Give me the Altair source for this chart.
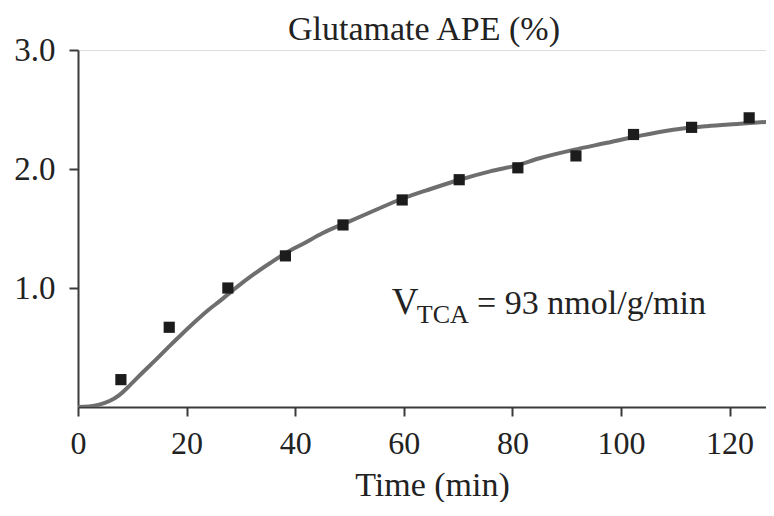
import altair as alt
import pandas as pd

# Measured data points (time in min, glutamate APE in %)
obs_t = [7.9, 16.8, 27.6, 38.2, 48.8, 59.7, 70.2, 81.0, 91.7, 102.3, 113.0, 123.6]
obs_v = [0.23, 0.67, 1.00, 1.27, 1.53, 1.74, 1.91, 2.01, 2.11, 2.29, 2.35, 2.43]

# Model fit curve
fit_t = [0, 2, 3.9, 5.8, 7.6, 9.5, 11.9, 14.4, 16.8, 19.3, 22, 24, 26.1, 29.3, 32.2,
         35.4, 38.5, 41.4, 45, 50, 55, 59.7, 64.8, 70.3, 75.9, 80.8, 85, 91.2, 97.4,
         103.5, 109.6, 115.8, 121.9, 128]
fit_v = [0, 0.005, 0.02, 0.05, 0.10, 0.18, 0.29, 0.40, 0.51, 0.62, 0.735, 0.815, 0.89,
         1.01, 1.11, 1.21, 1.30, 1.37, 1.46, 1.56, 1.66, 1.75, 1.83, 1.91, 1.98, 2.03,
         2.09, 2.16, 2.22, 2.28, 2.33, 2.36, 2.38, 2.40]

x_ticks = [0, 20, 40, 60, 80, 100, 120]
y_ticks = [1.0, 2.0, 3.0]

title_text = "Glutamate APE (%)"
x_title = "Time (min)"
ann_main = "V"
ann_sub = "TCA"
ann_rest = "= 93 nmol/g/min"

FONT = "Liberation Serif"
INK = "#222222"
AXIS = "#3a3a3a"

obs = pd.DataFrame({"t": obs_t, "v": obs_v})
fit = pd.DataFrame({"t": fit_t, "v": fit_v})

x_enc = alt.X("t:Q",
              scale=alt.Scale(domain=[0, 126.7], nice=False, zero=False),
              axis=alt.Axis(values=x_ticks, title=x_title, grid=False,
                            domainColor=AXIS, domainWidth=2,
                            tickColor=AXIS, tickWidth=2, tickSize=9,
                            labelFont=FONT, labelFontSize=32, labelColor=INK,
                            labelPadding=12, labelFlush=False,
                            titleFont=FONT, titleFontSize=34, titleFontWeight="normal",
                            titleColor=INK, titleBaseline="alphabetic",
                            titleY=88, titleX=354))
y_enc = alt.Y("v:Q",
              scale=alt.Scale(domain=[0, 3], nice=False),
              axis=alt.Axis(values=y_ticks, format=".1f", title=None, grid=False,
                            domainColor=AXIS, domainWidth=2,
                            tickColor=AXIS, tickWidth=2, tickSize=9,
                            labelFont=FONT, labelFontSize=33, labelColor=INK,
                            labelPadding=14, labelFlush=False))

line = alt.Chart(fit).mark_line(color="#6e6e6e", strokeWidth=4, clip=True,
                                interpolate="monotone").encode(x=x_enc, y=y_enc)
points = alt.Chart(obs).mark_square(color="#1c1c1c", size=125, opacity=1).encode(x=x_enc, y=y_enc)

ann1 = alt.Chart(pd.DataFrame({"t": [57.8], "v": [0.78], "s": [ann_main]})).mark_text(
    font=FONT, fontSize=37, color=INK, align="left", baseline="alphabetic").encode(
    x=x_enc, y=y_enc, text="s:N")
ann2 = alt.Chart(pd.DataFrame({"t": [62.4], "v": [0.705], "s": [ann_sub]})).mark_text(
    font=FONT, fontSize=26, color=INK, align="left", baseline="alphabetic").encode(
    x=x_enc, y=y_enc, text="s:N")
ann3 = alt.Chart(pd.DataFrame({"t": [73.5], "v": [0.78], "s": [ann_rest]})).mark_text(
    font=FONT, fontSize=34, color=INK, align="left", baseline="alphabetic").encode(
    x=x_enc, y=y_enc, text="s:N")

title = alt.Chart(pd.DataFrame({"s": [title_text]})).mark_text(
    font=FONT, fontSize=34, color=INK, align="center", baseline="alphabetic").encode(
    x=alt.value(346), y=alt.value(-10), text="s:N")

chart = alt.layer(line, points, ann1, ann2, ann3, title).properties(
    width=688, height=357,
    autosize=alt.AutoSizeParams(type="none"),
    padding={"left": 70, "top": 42, "right": 0, "bottom": 95},
).configure_view(stroke=None).configure(background="white")

chart.save("out.html", embed_options={"renderer": "svg", "actions": False})
